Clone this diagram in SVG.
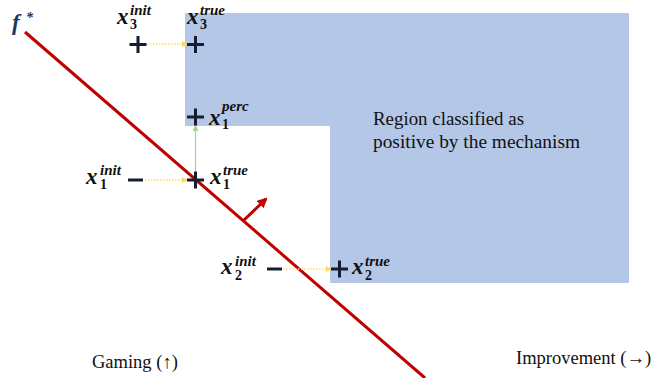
<svg xmlns="http://www.w3.org/2000/svg" width="653" height="378" viewBox="0 0 653 378">
<defs>
<style>
.m{font-family:"Liberation Serif",serif;font-weight:bold;font-style:italic;fill:#111;}
.mx{font-size:23px;}
.sp{font-size:15px;}
.sb{font-size:14px;font-style:normal;}
.lbl{font-family:"Liberation Serif",serif;font-size:18.5px;fill:#111;}
.pt{stroke:#141d33;stroke-width:3;fill:none;}
.dot{stroke:#ffd966;stroke-width:1.3;stroke-dasharray:1.5 1.5;fill:none;}
</style>
<marker id="ya" markerWidth="6" markerHeight="6" refX="5" refY="3" orient="auto" markerUnits="userSpaceOnUse"><path d="M0,0 L6,3 L0,6 Z" fill="#ffd966"/></marker>
<marker id="ga" markerWidth="6" markerHeight="6" refX="5" refY="3" orient="auto" markerUnits="userSpaceOnUse"><path d="M0,0 L6,3 L0,6 Z" fill="#a9d18e"/></marker>
<marker id="ra" markerWidth="10" markerHeight="10" refX="8" refY="5" orient="auto" markerUnits="userSpaceOnUse"><path d="M0,0 L10,5 L0,10 Z" fill="#c00000"/></marker>
</defs>
<g id="region">
<polygon points="185,13 629,13 629,283 330,283 330,126 185,126" fill="#b4c7e7"/>
<text class="lbl" x="373" y="125" textLength="151" lengthAdjust="spacingAndGlyphs">Region classified as</text>
<text class="lbl" x="373" y="148" textLength="207" lengthAdjust="spacingAndGlyphs">positive by the mechanism</text>
</g>
<g id="connectors">
<line x1="25" y1="32" x2="425" y2="378" stroke="#c00000" stroke-width="3"/>
<line x1="243" y1="221" x2="266" y2="199" stroke="#c00000" stroke-width="3" marker-end="url(#ra)"/>
<line class="dot" x1="147" y1="44" x2="187" y2="44" marker-end="url(#ya)"/>
<line class="dot" x1="145" y1="180" x2="187" y2="180" marker-end="url(#ya)"/>
<line class="dot" x1="283" y1="269" x2="331" y2="269" marker-end="url(#ya)"/>
<line x1="195.5" y1="171" x2="195.5" y2="126" stroke="#a9d18e" stroke-width="1.2" marker-end="url(#ga)"/>
</g>
<g id="fstar">
<text class="m" x="12" y="30" style="fill:#203864;font-size:23px">f</text>
<text class="m" x="26" y="22" style="fill:#203864;font-size:14px">*</text>
</g>
<g id="x3init">
<path class="pt" d="M129.5 44.5H146.5M138 36V53"/>
<text class="m mx" x="117" y="24">x</text><text class="m sp" x="130" y="15">init</text><text class="m sb" x="130" y="29">3</text>
</g>
<g id="x3true">
<path class="pt" d="M187 44.5H204M195.5 36V53"/>
<text class="m mx" x="187" y="24">x</text><text class="m sp" x="200" y="15">true</text><text class="m sb" x="200" y="29">3</text>
</g>
<g id="x1perc">
<path class="pt" d="M187 117H204M195.5 108.5V125.5"/>
<text class="m mx" x="209" y="125">x</text><text class="m sp" x="222" y="111">perc</text><text class="m sb" x="222" y="129">1</text>
</g>
<g id="x1true">
<path class="pt" d="M187 180H204M195.5 171.5V188.5"/>
<text class="m mx" x="210" y="184">x</text><text class="m sp" x="223" y="175">true</text><text class="m sb" x="223" y="189">1</text>
</g>
<g id="x1init">
<path class="pt" d="M128 180H143"/>
<text class="m mx" x="86" y="184">x</text><text class="m sp" x="100" y="175">init</text><text class="m sb" x="100" y="189">1</text>
</g>
<g id="x2init">
<path class="pt" d="M267 269H282"/>
<text class="m mx" x="221" y="274">x</text><text class="m sp" x="235" y="266">init</text><text class="m sb" x="235" y="280">2</text>
</g>
<g id="x2true">
<path class="pt" d="M331 269H348M339.5 260.5V277.5"/>
<text class="m mx" x="352" y="274">x</text><text class="m sp" x="365" y="266">true</text><text class="m sb" x="365" y="280">2</text>
</g>
<g id="axes">
<text class="lbl" x="92" y="368">Gaming (↑)</text>
<text class="lbl" x="516" y="364">Improvement (→)</text>
</g>
</svg>
